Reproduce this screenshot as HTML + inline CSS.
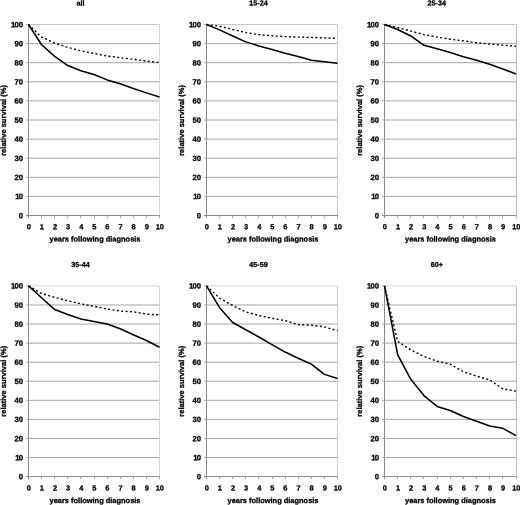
<!DOCTYPE html>
<html><head><meta charset="utf-8"><title>Relative survival</title>
<style>
html,body{margin:0;padding:0;background:#fff;}
svg{display:block;will-change:transform;}
text{font-family:"Liberation Sans",Arial,sans-serif;font-weight:bold;font-size:7.45px;fill:#000;text-rendering:geometricPrecision;stroke:#000;stroke-width:0.3px;}
text.t{font-size:7.7px;}
</style></head><body>
<svg width="520" height="505" viewBox="0 0 520 505">

<g>
<line x1="28.50" y1="196.40" x2="159.50" y2="196.40" stroke="#a6a6a6" stroke-width="1"/>
<line x1="28.50" y1="177.30" x2="159.50" y2="177.30" stroke="#a6a6a6" stroke-width="1"/>
<line x1="28.50" y1="158.20" x2="159.50" y2="158.20" stroke="#a6a6a6" stroke-width="1"/>
<line x1="28.50" y1="139.10" x2="159.50" y2="139.10" stroke="#a6a6a6" stroke-width="1"/>
<line x1="28.50" y1="120.00" x2="159.50" y2="120.00" stroke="#a6a6a6" stroke-width="1"/>
<line x1="28.50" y1="100.90" x2="159.50" y2="100.90" stroke="#a6a6a6" stroke-width="1"/>
<line x1="28.50" y1="81.80" x2="159.50" y2="81.80" stroke="#a6a6a6" stroke-width="1"/>
<line x1="28.50" y1="62.70" x2="159.50" y2="62.70" stroke="#a6a6a6" stroke-width="1"/>
<line x1="28.50" y1="43.60" x2="159.50" y2="43.60" stroke="#a6a6a6" stroke-width="1"/>
<line x1="28.50" y1="24.50" x2="159.50" y2="24.50" stroke="#c6c6c6" stroke-width="1"/>
<line x1="159.50" y1="24.50" x2="159.50" y2="215.50" stroke="#d8d8d8" stroke-width="1"/>
<line x1="28.50" y1="24.00" x2="28.50" y2="218.00" stroke="#8a8a8a" stroke-width="1"/>
<line x1="26.00" y1="215.50" x2="160.00" y2="215.50" stroke="#8a8a8a" stroke-width="1"/>
<text class="t" transform="translate(23.00 218.20) rotate(0.05)" text-anchor="end">0</text>
<line x1="26.00" y1="196.40" x2="28.50" y2="196.40" stroke="#a8a8a8" stroke-width="1"/>
<text class="t" transform="translate(23.00 199.10) rotate(0.05)" text-anchor="end" dx="0 -0.8">10</text>
<line x1="26.00" y1="177.30" x2="28.50" y2="177.30" stroke="#a8a8a8" stroke-width="1"/>
<text class="t" transform="translate(23.00 180.00) rotate(0.05)" text-anchor="end">20</text>
<line x1="26.00" y1="158.20" x2="28.50" y2="158.20" stroke="#a8a8a8" stroke-width="1"/>
<text class="t" transform="translate(23.00 160.90) rotate(0.05)" text-anchor="end">30</text>
<line x1="26.00" y1="139.10" x2="28.50" y2="139.10" stroke="#a8a8a8" stroke-width="1"/>
<text class="t" transform="translate(23.00 141.80) rotate(0.05)" text-anchor="end">40</text>
<line x1="26.00" y1="120.00" x2="28.50" y2="120.00" stroke="#a8a8a8" stroke-width="1"/>
<text class="t" transform="translate(23.00 122.70) rotate(0.05)" text-anchor="end">50</text>
<line x1="26.00" y1="100.90" x2="28.50" y2="100.90" stroke="#a8a8a8" stroke-width="1"/>
<text class="t" transform="translate(23.00 103.60) rotate(0.05)" text-anchor="end">60</text>
<line x1="26.00" y1="81.80" x2="28.50" y2="81.80" stroke="#a8a8a8" stroke-width="1"/>
<text class="t" transform="translate(23.00 84.50) rotate(0.05)" text-anchor="end">70</text>
<line x1="26.00" y1="62.70" x2="28.50" y2="62.70" stroke="#a8a8a8" stroke-width="1"/>
<text class="t" transform="translate(23.00 65.40) rotate(0.05)" text-anchor="end">80</text>
<line x1="26.00" y1="43.60" x2="28.50" y2="43.60" stroke="#a8a8a8" stroke-width="1"/>
<text class="t" transform="translate(23.00 46.30) rotate(0.05)" text-anchor="end">90</text>
<line x1="26.00" y1="24.50" x2="28.50" y2="24.50" stroke="#a8a8a8" stroke-width="1"/>
<text class="t" transform="translate(23.00 27.20) rotate(0.05)" text-anchor="end" dx="0 -0.8">100</text>
<text class="t" transform="translate(28.80 229.30) rotate(0.05)" text-anchor="middle" style="font-size:7.45px">0</text>
<line x1="41.50" y1="215.50" x2="41.50" y2="218.00" stroke="#a8a8a8" stroke-width="1"/>
<text class="t" transform="translate(41.90 229.30) rotate(0.05)" text-anchor="middle" style="font-size:7.45px">1</text>
<line x1="54.50" y1="215.50" x2="54.50" y2="218.00" stroke="#a8a8a8" stroke-width="1"/>
<text class="t" transform="translate(55.00 229.30) rotate(0.05)" text-anchor="middle" style="font-size:7.45px">2</text>
<line x1="67.50" y1="215.50" x2="67.50" y2="218.00" stroke="#a8a8a8" stroke-width="1"/>
<text class="t" transform="translate(68.10 229.30) rotate(0.05)" text-anchor="middle" style="font-size:7.45px">3</text>
<line x1="80.50" y1="215.50" x2="80.50" y2="218.00" stroke="#a8a8a8" stroke-width="1"/>
<text class="t" transform="translate(81.20 229.30) rotate(0.05)" text-anchor="middle" style="font-size:7.45px">4</text>
<line x1="94.50" y1="215.50" x2="94.50" y2="218.00" stroke="#a8a8a8" stroke-width="1"/>
<text class="t" transform="translate(94.30 229.30) rotate(0.05)" text-anchor="middle" style="font-size:7.45px">5</text>
<line x1="107.50" y1="215.50" x2="107.50" y2="218.00" stroke="#a8a8a8" stroke-width="1"/>
<text class="t" transform="translate(107.40 229.30) rotate(0.05)" text-anchor="middle" style="font-size:7.45px">6</text>
<line x1="120.50" y1="215.50" x2="120.50" y2="218.00" stroke="#a8a8a8" stroke-width="1"/>
<text class="t" transform="translate(120.50 229.30) rotate(0.05)" text-anchor="middle" style="font-size:7.45px">7</text>
<line x1="133.50" y1="215.50" x2="133.50" y2="218.00" stroke="#a8a8a8" stroke-width="1"/>
<text class="t" transform="translate(133.60 229.30) rotate(0.05)" text-anchor="middle" style="font-size:7.45px">8</text>
<line x1="146.50" y1="215.50" x2="146.50" y2="218.00" stroke="#a8a8a8" stroke-width="1"/>
<text class="t" transform="translate(146.70 229.30) rotate(0.05)" text-anchor="middle" style="font-size:7.45px">9</text>
<line x1="159.50" y1="215.50" x2="159.50" y2="218.00" stroke="#a8a8a8" stroke-width="1"/>
<text class="t" transform="translate(159.80 229.30) rotate(0.05)" text-anchor="middle" style="font-size:7.45px">10</text>
<polyline points="28.50,24.50 41.60,37.11 54.70,43.03 67.80,47.42 80.90,50.86 94.00,53.53 107.10,56.01 120.20,57.73 133.30,59.26 146.40,61.17 159.50,62.51" fill="none" stroke="#000" stroke-width="1.4" stroke-dasharray="2 2.4"/>
<polyline points="28.50,24.50 41.60,44.75 54.70,56.40 67.80,65.56 80.90,70.72 94.00,74.54 107.10,79.89 120.20,83.71 133.30,88.48 146.40,92.88 159.50,97.08" fill="none" stroke="#000" stroke-width="1.55" stroke-linejoin="round"/>
<text transform="translate(80.50 5.50) rotate(0.05)" text-anchor="middle" style="font-size:7.2px">all</text>
<text transform="translate(95.00 241.50) rotate(0.05)" text-anchor="middle">years following diagnosis</text>
<text transform="translate(5.90 120.40) rotate(-90)" text-anchor="middle" style="font-size:7.55px">relative survival (%)</text>
</g>
<g>
<line x1="206.50" y1="196.40" x2="337.50" y2="196.40" stroke="#a6a6a6" stroke-width="1"/>
<line x1="206.50" y1="177.30" x2="337.50" y2="177.30" stroke="#a6a6a6" stroke-width="1"/>
<line x1="206.50" y1="158.20" x2="337.50" y2="158.20" stroke="#a6a6a6" stroke-width="1"/>
<line x1="206.50" y1="139.10" x2="337.50" y2="139.10" stroke="#a6a6a6" stroke-width="1"/>
<line x1="206.50" y1="120.00" x2="337.50" y2="120.00" stroke="#a6a6a6" stroke-width="1"/>
<line x1="206.50" y1="100.90" x2="337.50" y2="100.90" stroke="#a6a6a6" stroke-width="1"/>
<line x1="206.50" y1="81.80" x2="337.50" y2="81.80" stroke="#a6a6a6" stroke-width="1"/>
<line x1="206.50" y1="62.70" x2="337.50" y2="62.70" stroke="#a6a6a6" stroke-width="1"/>
<line x1="206.50" y1="43.60" x2="337.50" y2="43.60" stroke="#a6a6a6" stroke-width="1"/>
<line x1="206.50" y1="24.50" x2="337.50" y2="24.50" stroke="#c6c6c6" stroke-width="1"/>
<line x1="337.50" y1="24.50" x2="337.50" y2="215.50" stroke="#cccccc" stroke-width="1"/>
<line x1="206.50" y1="24.00" x2="206.50" y2="218.00" stroke="#8a8a8a" stroke-width="1"/>
<line x1="204.00" y1="215.50" x2="338.00" y2="215.50" stroke="#8a8a8a" stroke-width="1"/>
<text class="t" transform="translate(201.00 218.20) rotate(0.05)" text-anchor="end">0</text>
<line x1="204.00" y1="196.40" x2="206.50" y2="196.40" stroke="#a8a8a8" stroke-width="1"/>
<text class="t" transform="translate(201.00 199.10) rotate(0.05)" text-anchor="end" dx="0 -0.8">10</text>
<line x1="204.00" y1="177.30" x2="206.50" y2="177.30" stroke="#a8a8a8" stroke-width="1"/>
<text class="t" transform="translate(201.00 180.00) rotate(0.05)" text-anchor="end">20</text>
<line x1="204.00" y1="158.20" x2="206.50" y2="158.20" stroke="#a8a8a8" stroke-width="1"/>
<text class="t" transform="translate(201.00 160.90) rotate(0.05)" text-anchor="end">30</text>
<line x1="204.00" y1="139.10" x2="206.50" y2="139.10" stroke="#a8a8a8" stroke-width="1"/>
<text class="t" transform="translate(201.00 141.80) rotate(0.05)" text-anchor="end">40</text>
<line x1="204.00" y1="120.00" x2="206.50" y2="120.00" stroke="#a8a8a8" stroke-width="1"/>
<text class="t" transform="translate(201.00 122.70) rotate(0.05)" text-anchor="end">50</text>
<line x1="204.00" y1="100.90" x2="206.50" y2="100.90" stroke="#a8a8a8" stroke-width="1"/>
<text class="t" transform="translate(201.00 103.60) rotate(0.05)" text-anchor="end">60</text>
<line x1="204.00" y1="81.80" x2="206.50" y2="81.80" stroke="#a8a8a8" stroke-width="1"/>
<text class="t" transform="translate(201.00 84.50) rotate(0.05)" text-anchor="end">70</text>
<line x1="204.00" y1="62.70" x2="206.50" y2="62.70" stroke="#a8a8a8" stroke-width="1"/>
<text class="t" transform="translate(201.00 65.40) rotate(0.05)" text-anchor="end">80</text>
<line x1="204.00" y1="43.60" x2="206.50" y2="43.60" stroke="#a8a8a8" stroke-width="1"/>
<text class="t" transform="translate(201.00 46.30) rotate(0.05)" text-anchor="end">90</text>
<line x1="204.00" y1="24.50" x2="206.50" y2="24.50" stroke="#a8a8a8" stroke-width="1"/>
<text class="t" transform="translate(201.00 27.20) rotate(0.05)" text-anchor="end" dx="0 -0.8">100</text>
<text class="t" transform="translate(206.80 229.30) rotate(0.05)" text-anchor="middle" style="font-size:7.45px">0</text>
<line x1="219.50" y1="215.50" x2="219.50" y2="218.00" stroke="#a8a8a8" stroke-width="1"/>
<text class="t" transform="translate(219.90 229.30) rotate(0.05)" text-anchor="middle" style="font-size:7.45px">1</text>
<line x1="232.50" y1="215.50" x2="232.50" y2="218.00" stroke="#a8a8a8" stroke-width="1"/>
<text class="t" transform="translate(233.00 229.30) rotate(0.05)" text-anchor="middle" style="font-size:7.45px">2</text>
<line x1="245.50" y1="215.50" x2="245.50" y2="218.00" stroke="#a8a8a8" stroke-width="1"/>
<text class="t" transform="translate(246.10 229.30) rotate(0.05)" text-anchor="middle" style="font-size:7.45px">3</text>
<line x1="258.50" y1="215.50" x2="258.50" y2="218.00" stroke="#a8a8a8" stroke-width="1"/>
<text class="t" transform="translate(259.20 229.30) rotate(0.05)" text-anchor="middle" style="font-size:7.45px">4</text>
<line x1="272.50" y1="215.50" x2="272.50" y2="218.00" stroke="#a8a8a8" stroke-width="1"/>
<text class="t" transform="translate(272.30 229.30) rotate(0.05)" text-anchor="middle" style="font-size:7.45px">5</text>
<line x1="285.50" y1="215.50" x2="285.50" y2="218.00" stroke="#a8a8a8" stroke-width="1"/>
<text class="t" transform="translate(285.40 229.30) rotate(0.05)" text-anchor="middle" style="font-size:7.45px">6</text>
<line x1="298.50" y1="215.50" x2="298.50" y2="218.00" stroke="#a8a8a8" stroke-width="1"/>
<text class="t" transform="translate(298.50 229.30) rotate(0.05)" text-anchor="middle" style="font-size:7.45px">7</text>
<line x1="311.50" y1="215.50" x2="311.50" y2="218.00" stroke="#a8a8a8" stroke-width="1"/>
<text class="t" transform="translate(311.60 229.30) rotate(0.05)" text-anchor="middle" style="font-size:7.45px">8</text>
<line x1="324.50" y1="215.50" x2="324.50" y2="218.00" stroke="#a8a8a8" stroke-width="1"/>
<text class="t" transform="translate(324.70 229.30) rotate(0.05)" text-anchor="middle" style="font-size:7.45px">9</text>
<line x1="337.50" y1="215.50" x2="337.50" y2="218.00" stroke="#a8a8a8" stroke-width="1"/>
<text class="t" transform="translate(337.80 229.30) rotate(0.05)" text-anchor="middle" style="font-size:7.45px">10</text>
<polyline points="206.50,24.50 219.60,26.22 232.70,29.47 245.80,32.62 258.90,34.62 272.00,35.77 285.10,36.63 298.20,37.11 311.30,37.39 324.40,37.87 337.50,38.44" fill="none" stroke="#000" stroke-width="1.4" stroke-dasharray="2 2.4"/>
<polyline points="206.50,24.50 219.60,29.85 232.70,35.96 245.80,41.88 258.90,45.89 272.00,49.52 285.10,53.34 298.20,56.40 311.30,60.22 324.40,61.84 337.50,63.27" fill="none" stroke="#000" stroke-width="1.55" stroke-linejoin="round"/>
<text transform="translate(258.50 5.50) rotate(0.05)" text-anchor="middle" style="font-size:7.2px">15-24</text>
<text transform="translate(273.00 241.50) rotate(0.05)" text-anchor="middle">years following diagnosis</text>
<text transform="translate(183.90 120.40) rotate(-90)" text-anchor="middle" style="font-size:7.55px">relative survival (%)</text>
</g>
<g>
<line x1="384.50" y1="196.40" x2="516.00" y2="196.40" stroke="#a6a6a6" stroke-width="1"/>
<line x1="384.50" y1="177.30" x2="516.00" y2="177.30" stroke="#a6a6a6" stroke-width="1"/>
<line x1="384.50" y1="158.20" x2="516.00" y2="158.20" stroke="#a6a6a6" stroke-width="1"/>
<line x1="384.50" y1="139.10" x2="516.00" y2="139.10" stroke="#a6a6a6" stroke-width="1"/>
<line x1="384.50" y1="120.00" x2="516.00" y2="120.00" stroke="#a6a6a6" stroke-width="1"/>
<line x1="384.50" y1="100.90" x2="516.00" y2="100.90" stroke="#a6a6a6" stroke-width="1"/>
<line x1="384.50" y1="81.80" x2="516.00" y2="81.80" stroke="#a6a6a6" stroke-width="1"/>
<line x1="384.50" y1="62.70" x2="516.00" y2="62.70" stroke="#a6a6a6" stroke-width="1"/>
<line x1="384.50" y1="43.60" x2="516.00" y2="43.60" stroke="#a6a6a6" stroke-width="1"/>
<line x1="384.50" y1="24.50" x2="516.00" y2="24.50" stroke="#c6c6c6" stroke-width="1"/>
<line x1="516.50" y1="24.50" x2="516.50" y2="215.50" stroke="#bcbcbc" stroke-width="1"/>
<line x1="384.50" y1="24.00" x2="384.50" y2="218.00" stroke="#8a8a8a" stroke-width="1"/>
<line x1="382.00" y1="215.50" x2="516.50" y2="215.50" stroke="#8a8a8a" stroke-width="1"/>
<text class="t" transform="translate(379.00 218.20) rotate(0.05)" text-anchor="end">0</text>
<line x1="382.00" y1="196.40" x2="384.50" y2="196.40" stroke="#a8a8a8" stroke-width="1"/>
<text class="t" transform="translate(379.00 199.10) rotate(0.05)" text-anchor="end" dx="0 -0.8">10</text>
<line x1="382.00" y1="177.30" x2="384.50" y2="177.30" stroke="#a8a8a8" stroke-width="1"/>
<text class="t" transform="translate(379.00 180.00) rotate(0.05)" text-anchor="end">20</text>
<line x1="382.00" y1="158.20" x2="384.50" y2="158.20" stroke="#a8a8a8" stroke-width="1"/>
<text class="t" transform="translate(379.00 160.90) rotate(0.05)" text-anchor="end">30</text>
<line x1="382.00" y1="139.10" x2="384.50" y2="139.10" stroke="#a8a8a8" stroke-width="1"/>
<text class="t" transform="translate(379.00 141.80) rotate(0.05)" text-anchor="end">40</text>
<line x1="382.00" y1="120.00" x2="384.50" y2="120.00" stroke="#a8a8a8" stroke-width="1"/>
<text class="t" transform="translate(379.00 122.70) rotate(0.05)" text-anchor="end">50</text>
<line x1="382.00" y1="100.90" x2="384.50" y2="100.90" stroke="#a8a8a8" stroke-width="1"/>
<text class="t" transform="translate(379.00 103.60) rotate(0.05)" text-anchor="end">60</text>
<line x1="382.00" y1="81.80" x2="384.50" y2="81.80" stroke="#a8a8a8" stroke-width="1"/>
<text class="t" transform="translate(379.00 84.50) rotate(0.05)" text-anchor="end">70</text>
<line x1="382.00" y1="62.70" x2="384.50" y2="62.70" stroke="#a8a8a8" stroke-width="1"/>
<text class="t" transform="translate(379.00 65.40) rotate(0.05)" text-anchor="end">80</text>
<line x1="382.00" y1="43.60" x2="384.50" y2="43.60" stroke="#a8a8a8" stroke-width="1"/>
<text class="t" transform="translate(379.00 46.30) rotate(0.05)" text-anchor="end">90</text>
<line x1="382.00" y1="24.50" x2="384.50" y2="24.50" stroke="#a8a8a8" stroke-width="1"/>
<text class="t" transform="translate(379.00 27.20) rotate(0.05)" text-anchor="end" dx="0 -0.8">100</text>
<text class="t" transform="translate(384.80 229.30) rotate(0.05)" text-anchor="middle" style="font-size:7.45px">0</text>
<line x1="397.50" y1="215.50" x2="397.50" y2="218.00" stroke="#a8a8a8" stroke-width="1"/>
<text class="t" transform="translate(397.95 229.30) rotate(0.05)" text-anchor="middle" style="font-size:7.45px">1</text>
<line x1="410.50" y1="215.50" x2="410.50" y2="218.00" stroke="#a8a8a8" stroke-width="1"/>
<text class="t" transform="translate(411.10 229.30) rotate(0.05)" text-anchor="middle" style="font-size:7.45px">2</text>
<line x1="423.50" y1="215.50" x2="423.50" y2="218.00" stroke="#a8a8a8" stroke-width="1"/>
<text class="t" transform="translate(424.25 229.30) rotate(0.05)" text-anchor="middle" style="font-size:7.45px">3</text>
<line x1="437.50" y1="215.50" x2="437.50" y2="218.00" stroke="#a8a8a8" stroke-width="1"/>
<text class="t" transform="translate(437.40 229.30) rotate(0.05)" text-anchor="middle" style="font-size:7.45px">4</text>
<line x1="450.50" y1="215.50" x2="450.50" y2="218.00" stroke="#a8a8a8" stroke-width="1"/>
<text class="t" transform="translate(450.55 229.30) rotate(0.05)" text-anchor="middle" style="font-size:7.45px">5</text>
<line x1="463.50" y1="215.50" x2="463.50" y2="218.00" stroke="#a8a8a8" stroke-width="1"/>
<text class="t" transform="translate(463.70 229.30) rotate(0.05)" text-anchor="middle" style="font-size:7.45px">6</text>
<line x1="476.50" y1="215.50" x2="476.50" y2="218.00" stroke="#a8a8a8" stroke-width="1"/>
<text class="t" transform="translate(476.85 229.30) rotate(0.05)" text-anchor="middle" style="font-size:7.45px">7</text>
<line x1="489.50" y1="215.50" x2="489.50" y2="218.00" stroke="#a8a8a8" stroke-width="1"/>
<text class="t" transform="translate(490.00 229.30) rotate(0.05)" text-anchor="middle" style="font-size:7.45px">8</text>
<line x1="502.50" y1="215.50" x2="502.50" y2="218.00" stroke="#a8a8a8" stroke-width="1"/>
<text class="t" transform="translate(503.15 229.30) rotate(0.05)" text-anchor="middle" style="font-size:7.45px">9</text>
<line x1="516.50" y1="215.50" x2="516.50" y2="218.00" stroke="#a8a8a8" stroke-width="1"/>
<text class="t" transform="translate(516.30 229.30) rotate(0.05)" text-anchor="middle" style="font-size:7.45px">10</text>
<polyline points="384.50,24.50 397.65,27.56 410.80,31.09 423.95,34.62 437.10,37.11 450.25,39.21 463.40,40.93 476.55,42.65 489.70,43.98 502.85,45.13 516.00,46.27" fill="none" stroke="#000" stroke-width="1.4" stroke-dasharray="2 2.4"/>
<polyline points="384.50,24.50 397.65,29.47 410.80,35.96 423.95,45.32 437.10,48.76 450.25,52.58 463.40,56.78 476.55,60.22 489.70,64.23 502.85,69.00 516.00,73.97" fill="none" stroke="#000" stroke-width="1.55" stroke-linejoin="round"/>
<text transform="translate(436.75 5.50) rotate(0.05)" text-anchor="middle" style="font-size:7.2px">25-34</text>
<text transform="translate(450.45 241.50) rotate(0.05)" text-anchor="middle">years following diagnosis</text>
<text transform="translate(362.40 120.40) rotate(-90)" text-anchor="middle" style="font-size:7.55px">relative survival (%)</text>
</g>
<g>
<line x1="28.50" y1="457.53" x2="159.50" y2="457.53" stroke="#a6a6a6" stroke-width="1"/>
<line x1="28.50" y1="438.46" x2="159.50" y2="438.46" stroke="#a6a6a6" stroke-width="1"/>
<line x1="28.50" y1="419.39" x2="159.50" y2="419.39" stroke="#a6a6a6" stroke-width="1"/>
<line x1="28.50" y1="400.32" x2="159.50" y2="400.32" stroke="#a6a6a6" stroke-width="1"/>
<line x1="28.50" y1="381.25" x2="159.50" y2="381.25" stroke="#a6a6a6" stroke-width="1"/>
<line x1="28.50" y1="362.18" x2="159.50" y2="362.18" stroke="#a6a6a6" stroke-width="1"/>
<line x1="28.50" y1="343.11" x2="159.50" y2="343.11" stroke="#a6a6a6" stroke-width="1"/>
<line x1="28.50" y1="324.04" x2="159.50" y2="324.04" stroke="#a6a6a6" stroke-width="1"/>
<line x1="28.50" y1="304.97" x2="159.50" y2="304.97" stroke="#a6a6a6" stroke-width="1"/>
<line x1="28.50" y1="285.90" x2="159.50" y2="285.90" stroke="#d6d6d6" stroke-width="1"/>
<line x1="159.50" y1="285.90" x2="159.50" y2="476.60" stroke="#d8d8d8" stroke-width="1"/>
<line x1="28.50" y1="285.40" x2="28.50" y2="479.10" stroke="#8a8a8a" stroke-width="1"/>
<line x1="26.00" y1="476.60" x2="160.00" y2="476.60" stroke="#8a8a8a" stroke-width="1"/>
<text class="t" transform="translate(23.00 479.30) rotate(0.05)" text-anchor="end">0</text>
<line x1="26.00" y1="457.53" x2="28.50" y2="457.53" stroke="#a8a8a8" stroke-width="1"/>
<text class="t" transform="translate(23.00 460.23) rotate(0.05)" text-anchor="end" dx="0 -0.8">10</text>
<line x1="26.00" y1="438.46" x2="28.50" y2="438.46" stroke="#a8a8a8" stroke-width="1"/>
<text class="t" transform="translate(23.00 441.16) rotate(0.05)" text-anchor="end">20</text>
<line x1="26.00" y1="419.39" x2="28.50" y2="419.39" stroke="#a8a8a8" stroke-width="1"/>
<text class="t" transform="translate(23.00 422.09) rotate(0.05)" text-anchor="end">30</text>
<line x1="26.00" y1="400.32" x2="28.50" y2="400.32" stroke="#a8a8a8" stroke-width="1"/>
<text class="t" transform="translate(23.00 403.02) rotate(0.05)" text-anchor="end">40</text>
<line x1="26.00" y1="381.25" x2="28.50" y2="381.25" stroke="#a8a8a8" stroke-width="1"/>
<text class="t" transform="translate(23.00 383.95) rotate(0.05)" text-anchor="end">50</text>
<line x1="26.00" y1="362.18" x2="28.50" y2="362.18" stroke="#a8a8a8" stroke-width="1"/>
<text class="t" transform="translate(23.00 364.88) rotate(0.05)" text-anchor="end">60</text>
<line x1="26.00" y1="343.11" x2="28.50" y2="343.11" stroke="#a8a8a8" stroke-width="1"/>
<text class="t" transform="translate(23.00 345.81) rotate(0.05)" text-anchor="end">70</text>
<line x1="26.00" y1="324.04" x2="28.50" y2="324.04" stroke="#a8a8a8" stroke-width="1"/>
<text class="t" transform="translate(23.00 326.74) rotate(0.05)" text-anchor="end">80</text>
<line x1="26.00" y1="304.97" x2="28.50" y2="304.97" stroke="#a8a8a8" stroke-width="1"/>
<text class="t" transform="translate(23.00 307.67) rotate(0.05)" text-anchor="end">90</text>
<line x1="26.00" y1="285.90" x2="28.50" y2="285.90" stroke="#a8a8a8" stroke-width="1"/>
<text class="t" transform="translate(23.00 288.60) rotate(0.05)" text-anchor="end" dx="0 -0.8">100</text>
<text class="t" transform="translate(28.80 490.40) rotate(0.05)" text-anchor="middle" style="font-size:7.45px">0</text>
<line x1="41.50" y1="476.60" x2="41.50" y2="479.10" stroke="#a8a8a8" stroke-width="1"/>
<text class="t" transform="translate(41.90 490.40) rotate(0.05)" text-anchor="middle" style="font-size:7.45px">1</text>
<line x1="54.50" y1="476.60" x2="54.50" y2="479.10" stroke="#a8a8a8" stroke-width="1"/>
<text class="t" transform="translate(55.00 490.40) rotate(0.05)" text-anchor="middle" style="font-size:7.45px">2</text>
<line x1="67.50" y1="476.60" x2="67.50" y2="479.10" stroke="#a8a8a8" stroke-width="1"/>
<text class="t" transform="translate(68.10 490.40) rotate(0.05)" text-anchor="middle" style="font-size:7.45px">3</text>
<line x1="80.50" y1="476.60" x2="80.50" y2="479.10" stroke="#a8a8a8" stroke-width="1"/>
<text class="t" transform="translate(81.20 490.40) rotate(0.05)" text-anchor="middle" style="font-size:7.45px">4</text>
<line x1="94.50" y1="476.60" x2="94.50" y2="479.10" stroke="#a8a8a8" stroke-width="1"/>
<text class="t" transform="translate(94.30 490.40) rotate(0.05)" text-anchor="middle" style="font-size:7.45px">5</text>
<line x1="107.50" y1="476.60" x2="107.50" y2="479.10" stroke="#a8a8a8" stroke-width="1"/>
<text class="t" transform="translate(107.40 490.40) rotate(0.05)" text-anchor="middle" style="font-size:7.45px">6</text>
<line x1="120.50" y1="476.60" x2="120.50" y2="479.10" stroke="#a8a8a8" stroke-width="1"/>
<text class="t" transform="translate(120.50 490.40) rotate(0.05)" text-anchor="middle" style="font-size:7.45px">7</text>
<line x1="133.50" y1="476.60" x2="133.50" y2="479.10" stroke="#a8a8a8" stroke-width="1"/>
<text class="t" transform="translate(133.60 490.40) rotate(0.05)" text-anchor="middle" style="font-size:7.45px">8</text>
<line x1="146.50" y1="476.60" x2="146.50" y2="479.10" stroke="#a8a8a8" stroke-width="1"/>
<text class="t" transform="translate(146.70 490.40) rotate(0.05)" text-anchor="middle" style="font-size:7.45px">9</text>
<line x1="159.50" y1="476.60" x2="159.50" y2="479.10" stroke="#a8a8a8" stroke-width="1"/>
<text class="t" transform="translate(159.80 490.40) rotate(0.05)" text-anchor="middle" style="font-size:7.45px">10</text>
<polyline points="28.50,285.90 41.60,293.53 54.70,297.34 67.80,300.77 80.90,303.83 94.00,306.30 107.10,308.97 120.20,311.07 133.30,311.84 146.40,314.12 159.50,314.89" fill="none" stroke="#000" stroke-width="1.4" stroke-dasharray="2 2.4"/>
<polyline points="28.50,285.90 41.60,297.72 54.70,309.55 67.80,314.50 80.90,319.08 94.00,321.56 107.10,324.04 120.20,328.81 133.30,334.72 146.40,340.44 159.50,347.31" fill="none" stroke="#000" stroke-width="1.55" stroke-linejoin="round"/>
<text transform="translate(80.50 266.90) rotate(0.05)" text-anchor="middle" style="font-size:7.2px">35-44</text>
<text transform="translate(95.00 503.00) rotate(0.05)" text-anchor="middle">years following diagnosis</text>
<text transform="translate(5.60 381.25) rotate(-90)" text-anchor="middle" style="font-size:7.55px">relative survival (%)</text>
</g>
<g>
<line x1="206.50" y1="457.53" x2="337.50" y2="457.53" stroke="#a6a6a6" stroke-width="1"/>
<line x1="206.50" y1="438.46" x2="337.50" y2="438.46" stroke="#a6a6a6" stroke-width="1"/>
<line x1="206.50" y1="419.39" x2="337.50" y2="419.39" stroke="#a6a6a6" stroke-width="1"/>
<line x1="206.50" y1="400.32" x2="337.50" y2="400.32" stroke="#a6a6a6" stroke-width="1"/>
<line x1="206.50" y1="381.25" x2="337.50" y2="381.25" stroke="#a6a6a6" stroke-width="1"/>
<line x1="206.50" y1="362.18" x2="337.50" y2="362.18" stroke="#a6a6a6" stroke-width="1"/>
<line x1="206.50" y1="343.11" x2="337.50" y2="343.11" stroke="#a6a6a6" stroke-width="1"/>
<line x1="206.50" y1="324.04" x2="337.50" y2="324.04" stroke="#a6a6a6" stroke-width="1"/>
<line x1="206.50" y1="304.97" x2="337.50" y2="304.97" stroke="#a6a6a6" stroke-width="1"/>
<line x1="206.50" y1="285.90" x2="337.50" y2="285.90" stroke="#d6d6d6" stroke-width="1"/>
<line x1="337.50" y1="285.90" x2="337.50" y2="476.60" stroke="#cccccc" stroke-width="1"/>
<line x1="206.50" y1="285.40" x2="206.50" y2="479.10" stroke="#8a8a8a" stroke-width="1"/>
<line x1="204.00" y1="476.60" x2="338.00" y2="476.60" stroke="#8a8a8a" stroke-width="1"/>
<text class="t" transform="translate(201.00 479.30) rotate(0.05)" text-anchor="end">0</text>
<line x1="204.00" y1="457.53" x2="206.50" y2="457.53" stroke="#a8a8a8" stroke-width="1"/>
<text class="t" transform="translate(201.00 460.23) rotate(0.05)" text-anchor="end" dx="0 -0.8">10</text>
<line x1="204.00" y1="438.46" x2="206.50" y2="438.46" stroke="#a8a8a8" stroke-width="1"/>
<text class="t" transform="translate(201.00 441.16) rotate(0.05)" text-anchor="end">20</text>
<line x1="204.00" y1="419.39" x2="206.50" y2="419.39" stroke="#a8a8a8" stroke-width="1"/>
<text class="t" transform="translate(201.00 422.09) rotate(0.05)" text-anchor="end">30</text>
<line x1="204.00" y1="400.32" x2="206.50" y2="400.32" stroke="#a8a8a8" stroke-width="1"/>
<text class="t" transform="translate(201.00 403.02) rotate(0.05)" text-anchor="end">40</text>
<line x1="204.00" y1="381.25" x2="206.50" y2="381.25" stroke="#a8a8a8" stroke-width="1"/>
<text class="t" transform="translate(201.00 383.95) rotate(0.05)" text-anchor="end">50</text>
<line x1="204.00" y1="362.18" x2="206.50" y2="362.18" stroke="#a8a8a8" stroke-width="1"/>
<text class="t" transform="translate(201.00 364.88) rotate(0.05)" text-anchor="end">60</text>
<line x1="204.00" y1="343.11" x2="206.50" y2="343.11" stroke="#a8a8a8" stroke-width="1"/>
<text class="t" transform="translate(201.00 345.81) rotate(0.05)" text-anchor="end">70</text>
<line x1="204.00" y1="324.04" x2="206.50" y2="324.04" stroke="#a8a8a8" stroke-width="1"/>
<text class="t" transform="translate(201.00 326.74) rotate(0.05)" text-anchor="end">80</text>
<line x1="204.00" y1="304.97" x2="206.50" y2="304.97" stroke="#a8a8a8" stroke-width="1"/>
<text class="t" transform="translate(201.00 307.67) rotate(0.05)" text-anchor="end">90</text>
<line x1="204.00" y1="285.90" x2="206.50" y2="285.90" stroke="#a8a8a8" stroke-width="1"/>
<text class="t" transform="translate(201.00 288.60) rotate(0.05)" text-anchor="end" dx="0 -0.8">100</text>
<text class="t" transform="translate(206.80 490.40) rotate(0.05)" text-anchor="middle" style="font-size:7.45px">0</text>
<line x1="219.50" y1="476.60" x2="219.50" y2="479.10" stroke="#a8a8a8" stroke-width="1"/>
<text class="t" transform="translate(219.90 490.40) rotate(0.05)" text-anchor="middle" style="font-size:7.45px">1</text>
<line x1="232.50" y1="476.60" x2="232.50" y2="479.10" stroke="#a8a8a8" stroke-width="1"/>
<text class="t" transform="translate(233.00 490.40) rotate(0.05)" text-anchor="middle" style="font-size:7.45px">2</text>
<line x1="245.50" y1="476.60" x2="245.50" y2="479.10" stroke="#a8a8a8" stroke-width="1"/>
<text class="t" transform="translate(246.10 490.40) rotate(0.05)" text-anchor="middle" style="font-size:7.45px">3</text>
<line x1="258.50" y1="476.60" x2="258.50" y2="479.10" stroke="#a8a8a8" stroke-width="1"/>
<text class="t" transform="translate(259.20 490.40) rotate(0.05)" text-anchor="middle" style="font-size:7.45px">4</text>
<line x1="272.50" y1="476.60" x2="272.50" y2="479.10" stroke="#a8a8a8" stroke-width="1"/>
<text class="t" transform="translate(272.30 490.40) rotate(0.05)" text-anchor="middle" style="font-size:7.45px">5</text>
<line x1="285.50" y1="476.60" x2="285.50" y2="479.10" stroke="#a8a8a8" stroke-width="1"/>
<text class="t" transform="translate(285.40 490.40) rotate(0.05)" text-anchor="middle" style="font-size:7.45px">6</text>
<line x1="298.50" y1="476.60" x2="298.50" y2="479.10" stroke="#a8a8a8" stroke-width="1"/>
<text class="t" transform="translate(298.50 490.40) rotate(0.05)" text-anchor="middle" style="font-size:7.45px">7</text>
<line x1="311.50" y1="476.60" x2="311.50" y2="479.10" stroke="#a8a8a8" stroke-width="1"/>
<text class="t" transform="translate(311.60 490.40) rotate(0.05)" text-anchor="middle" style="font-size:7.45px">8</text>
<line x1="324.50" y1="476.60" x2="324.50" y2="479.10" stroke="#a8a8a8" stroke-width="1"/>
<text class="t" transform="translate(324.70 490.40) rotate(0.05)" text-anchor="middle" style="font-size:7.45px">9</text>
<line x1="337.50" y1="476.60" x2="337.50" y2="479.10" stroke="#a8a8a8" stroke-width="1"/>
<text class="t" transform="translate(337.80 490.40) rotate(0.05)" text-anchor="middle" style="font-size:7.45px">10</text>
<polyline points="206.50,285.90 219.60,298.10 232.70,305.54 245.80,311.84 258.90,315.46 272.00,318.32 285.10,320.61 298.20,324.61 311.30,325.18 324.40,326.90 337.50,330.71" fill="none" stroke="#000" stroke-width="1.4" stroke-dasharray="2 2.4"/>
<polyline points="206.50,285.90 219.60,307.64 232.70,322.51 245.80,329.76 258.90,337.01 272.00,344.64 285.10,352.07 298.20,358.18 311.30,364.09 324.40,374.38 337.50,378.39" fill="none" stroke="#000" stroke-width="1.55" stroke-linejoin="round"/>
<text transform="translate(258.50 266.90) rotate(0.05)" text-anchor="middle" style="font-size:7.2px">45-59</text>
<text transform="translate(273.00 503.00) rotate(0.05)" text-anchor="middle">years following diagnosis</text>
<text transform="translate(183.85 381.25) rotate(-90)" text-anchor="middle" style="font-size:7.55px">relative survival (%)</text>
</g>
<g>
<line x1="384.50" y1="457.53" x2="516.00" y2="457.53" stroke="#a6a6a6" stroke-width="1"/>
<line x1="384.50" y1="438.46" x2="516.00" y2="438.46" stroke="#a6a6a6" stroke-width="1"/>
<line x1="384.50" y1="419.39" x2="516.00" y2="419.39" stroke="#a6a6a6" stroke-width="1"/>
<line x1="384.50" y1="400.32" x2="516.00" y2="400.32" stroke="#a6a6a6" stroke-width="1"/>
<line x1="384.50" y1="381.25" x2="516.00" y2="381.25" stroke="#a6a6a6" stroke-width="1"/>
<line x1="384.50" y1="362.18" x2="516.00" y2="362.18" stroke="#a6a6a6" stroke-width="1"/>
<line x1="384.50" y1="343.11" x2="516.00" y2="343.11" stroke="#a6a6a6" stroke-width="1"/>
<line x1="384.50" y1="324.04" x2="516.00" y2="324.04" stroke="#a6a6a6" stroke-width="1"/>
<line x1="384.50" y1="304.97" x2="516.00" y2="304.97" stroke="#a6a6a6" stroke-width="1"/>
<line x1="384.50" y1="285.90" x2="516.00" y2="285.90" stroke="#d6d6d6" stroke-width="1"/>
<line x1="516.50" y1="285.90" x2="516.50" y2="476.60" stroke="#bcbcbc" stroke-width="1"/>
<line x1="384.50" y1="285.40" x2="384.50" y2="479.10" stroke="#8a8a8a" stroke-width="1"/>
<line x1="382.00" y1="476.60" x2="516.50" y2="476.60" stroke="#8a8a8a" stroke-width="1"/>
<text class="t" transform="translate(379.00 479.30) rotate(0.05)" text-anchor="end">0</text>
<line x1="382.00" y1="457.53" x2="384.50" y2="457.53" stroke="#a8a8a8" stroke-width="1"/>
<text class="t" transform="translate(379.00 460.23) rotate(0.05)" text-anchor="end" dx="0 -0.8">10</text>
<line x1="382.00" y1="438.46" x2="384.50" y2="438.46" stroke="#a8a8a8" stroke-width="1"/>
<text class="t" transform="translate(379.00 441.16) rotate(0.05)" text-anchor="end">20</text>
<line x1="382.00" y1="419.39" x2="384.50" y2="419.39" stroke="#a8a8a8" stroke-width="1"/>
<text class="t" transform="translate(379.00 422.09) rotate(0.05)" text-anchor="end">30</text>
<line x1="382.00" y1="400.32" x2="384.50" y2="400.32" stroke="#a8a8a8" stroke-width="1"/>
<text class="t" transform="translate(379.00 403.02) rotate(0.05)" text-anchor="end">40</text>
<line x1="382.00" y1="381.25" x2="384.50" y2="381.25" stroke="#a8a8a8" stroke-width="1"/>
<text class="t" transform="translate(379.00 383.95) rotate(0.05)" text-anchor="end">50</text>
<line x1="382.00" y1="362.18" x2="384.50" y2="362.18" stroke="#a8a8a8" stroke-width="1"/>
<text class="t" transform="translate(379.00 364.88) rotate(0.05)" text-anchor="end">60</text>
<line x1="382.00" y1="343.11" x2="384.50" y2="343.11" stroke="#a8a8a8" stroke-width="1"/>
<text class="t" transform="translate(379.00 345.81) rotate(0.05)" text-anchor="end">70</text>
<line x1="382.00" y1="324.04" x2="384.50" y2="324.04" stroke="#a8a8a8" stroke-width="1"/>
<text class="t" transform="translate(379.00 326.74) rotate(0.05)" text-anchor="end">80</text>
<line x1="382.00" y1="304.97" x2="384.50" y2="304.97" stroke="#a8a8a8" stroke-width="1"/>
<text class="t" transform="translate(379.00 307.67) rotate(0.05)" text-anchor="end">90</text>
<line x1="382.00" y1="285.90" x2="384.50" y2="285.90" stroke="#a8a8a8" stroke-width="1"/>
<text class="t" transform="translate(379.00 288.60) rotate(0.05)" text-anchor="end" dx="0 -0.8">100</text>
<text class="t" transform="translate(384.80 490.40) rotate(0.05)" text-anchor="middle" style="font-size:7.45px">0</text>
<line x1="397.50" y1="476.60" x2="397.50" y2="479.10" stroke="#a8a8a8" stroke-width="1"/>
<text class="t" transform="translate(397.95 490.40) rotate(0.05)" text-anchor="middle" style="font-size:7.45px">1</text>
<line x1="410.50" y1="476.60" x2="410.50" y2="479.10" stroke="#a8a8a8" stroke-width="1"/>
<text class="t" transform="translate(411.10 490.40) rotate(0.05)" text-anchor="middle" style="font-size:7.45px">2</text>
<line x1="423.50" y1="476.60" x2="423.50" y2="479.10" stroke="#a8a8a8" stroke-width="1"/>
<text class="t" transform="translate(424.25 490.40) rotate(0.05)" text-anchor="middle" style="font-size:7.45px">3</text>
<line x1="437.50" y1="476.60" x2="437.50" y2="479.10" stroke="#a8a8a8" stroke-width="1"/>
<text class="t" transform="translate(437.40 490.40) rotate(0.05)" text-anchor="middle" style="font-size:7.45px">4</text>
<line x1="450.50" y1="476.60" x2="450.50" y2="479.10" stroke="#a8a8a8" stroke-width="1"/>
<text class="t" transform="translate(450.55 490.40) rotate(0.05)" text-anchor="middle" style="font-size:7.45px">5</text>
<line x1="463.50" y1="476.60" x2="463.50" y2="479.10" stroke="#a8a8a8" stroke-width="1"/>
<text class="t" transform="translate(463.70 490.40) rotate(0.05)" text-anchor="middle" style="font-size:7.45px">6</text>
<line x1="476.50" y1="476.60" x2="476.50" y2="479.10" stroke="#a8a8a8" stroke-width="1"/>
<text class="t" transform="translate(476.85 490.40) rotate(0.05)" text-anchor="middle" style="font-size:7.45px">7</text>
<line x1="489.50" y1="476.60" x2="489.50" y2="479.10" stroke="#a8a8a8" stroke-width="1"/>
<text class="t" transform="translate(490.00 490.40) rotate(0.05)" text-anchor="middle" style="font-size:7.45px">8</text>
<line x1="502.50" y1="476.60" x2="502.50" y2="479.10" stroke="#a8a8a8" stroke-width="1"/>
<text class="t" transform="translate(503.15 490.40) rotate(0.05)" text-anchor="middle" style="font-size:7.45px">9</text>
<line x1="516.50" y1="476.60" x2="516.50" y2="479.10" stroke="#a8a8a8" stroke-width="1"/>
<text class="t" transform="translate(516.30 490.40) rotate(0.05)" text-anchor="middle" style="font-size:7.45px">10</text>
<polyline points="384.50,285.90 397.65,341.39 410.80,349.98 423.95,356.46 437.10,361.23 450.25,364.09 463.40,371.72 476.55,376.10 489.70,379.92 502.85,388.88 516.00,391.17" fill="none" stroke="#000" stroke-width="1.4" stroke-dasharray="2 2.4"/>
<polyline points="384.50,285.90 397.65,354.55 410.80,379.34 423.95,395.55 437.10,406.42 450.25,410.43 463.40,416.53 476.55,421.30 489.70,426.06 502.85,428.35 516.00,435.60" fill="none" stroke="#000" stroke-width="1.55" stroke-linejoin="round"/>
<text transform="translate(436.75 266.90) rotate(0.05)" text-anchor="middle" style="font-size:7.2px">60+</text>
<text transform="translate(450.45 503.00) rotate(0.05)" text-anchor="middle">years following diagnosis</text>
<text transform="translate(362.30 381.25) rotate(-90)" text-anchor="middle" style="font-size:7.55px">relative survival (%)</text>
</g>
</svg></body></html>
